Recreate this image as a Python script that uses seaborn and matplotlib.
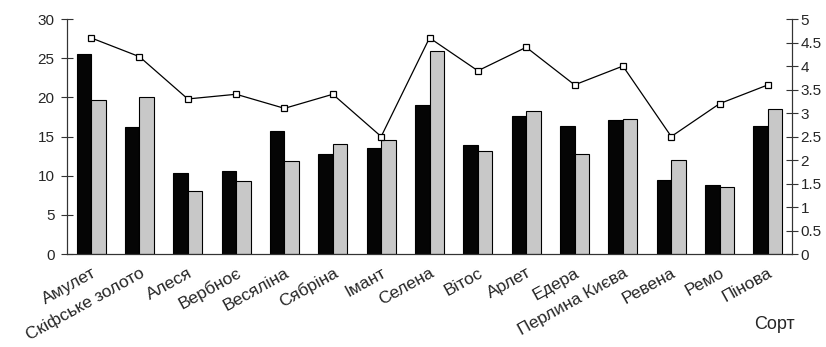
import pandas as pd
import matplotlib.pyplot as plt
import seaborn as sns

# Values
varieties = ['Амулет', 'Скіфське золото', 'Алеся', 'Вербноє', 'Весяліна', 'Сябріна',
             'Імант', 'Селена', 'Вітос', 'Арлет', 'Едера', 'Перлина Києва',
             'Ревена', 'Ремо', 'Пінова']
series_black = [25.6, 16.2, 10.3, 10.6, 15.7, 12.8, 13.6, 19.0, 13.9, 17.6, 16.3, 17.1, 9.4, 8.8, 16.3]
series_gray = [19.7, 20.0, 8.0, 9.3, 11.9, 14.0, 14.5, 25.9, 13.1, 18.3, 12.8, 17.2, 12.0, 8.6, 18.5]
line_values = [4.6, 4.2, 3.3, 3.4, 3.1, 3.4, 2.5, 4.6, 3.9, 4.4, 3.6, 4.0, 2.5, 3.2, 3.6]

left_ticks = [0, 5, 10, 15, 20, 25, 30]
right_ticks = [0, 0.5, 1, 1.5, 2, 2.5, 3, 3.5, 4, 4.5, 5]

sns.set_theme(style="white")
plt.rcParams['font.family'] = ['Liberation Sans', 'DejaVu Sans']

bars = pd.DataFrame({
    'Сорт': varieties * 2,
    'value': series_black + series_gray,
    'series': ['a'] * len(varieties) + ['b'] * len(varieties),
})
line_df = pd.DataFrame({'Сорт': varieties, 'value': line_values})

fig = plt.figure(figsize=(8.26, 3.47), dpi=100)
ax = fig.add_axes([0.081, 0.268, 0.878, 0.677])

sns.barplot(data=bars, x='Сорт', y='value', hue='series',
            palette=['#050505', '#c8c8c8'], edgecolor='black', linewidth=0.8,
            width=0.6, gap=0, legend=False, ax=ax)

ax2 = ax.twinx()
sns.lineplot(data=line_df, x='Сорт', y='value', color='black', linewidth=0.9,
             marker='s', markersize=4.8, markerfacecolor='white',
             markeredgecolor='black', markeredgewidth=0.9, ax=ax2)

ax.set_xlim(-0.5, len(varieties) - 0.5)
ax.set_ylim(0, 30)
ax2.set_ylim(0, 5)
ax.set_yticks(left_ticks)
ax2.set_yticks(right_ticks)
ax2.set_yticklabels([f'{t:g}' for t in right_ticks])

ax.set_xticks(range(len(varieties)))
ax.set_xticklabels(varieties, rotation=29, ha='right', rotation_mode='anchor', fontsize=12.5)
ax.tick_params(axis='x', length=0, pad=8)
# category boundary ticks
ax.set_xticks([i + 0.5 for i in range(-1, len(varieties))], minor=True)
ax.tick_params(axis='x', which='minor', direction='inout', length=8, width=0.8, color='#333333')
ax.tick_params(axis='y', direction='inout', length=8, width=0.8, color='#333333', labelsize=11, pad=5)
ax2.tick_params(axis='y', direction='inout', length=8, width=0.8, color='#333333', labelsize=11, pad=2)

for a in (ax, ax2):
    a.set_xlabel('')
    a.set_ylabel('')
    a.spines['top'].set_visible(False)
    for s in ('left', 'right', 'bottom'):
        a.spines[s].set_color('#333333')
        a.spines[s].set_linewidth(0.8)

fig.text(0.938, 0.065, 'Сорт', fontsize=13, ha='center', va='center')

fig.savefig('out.png', dpi=100)
